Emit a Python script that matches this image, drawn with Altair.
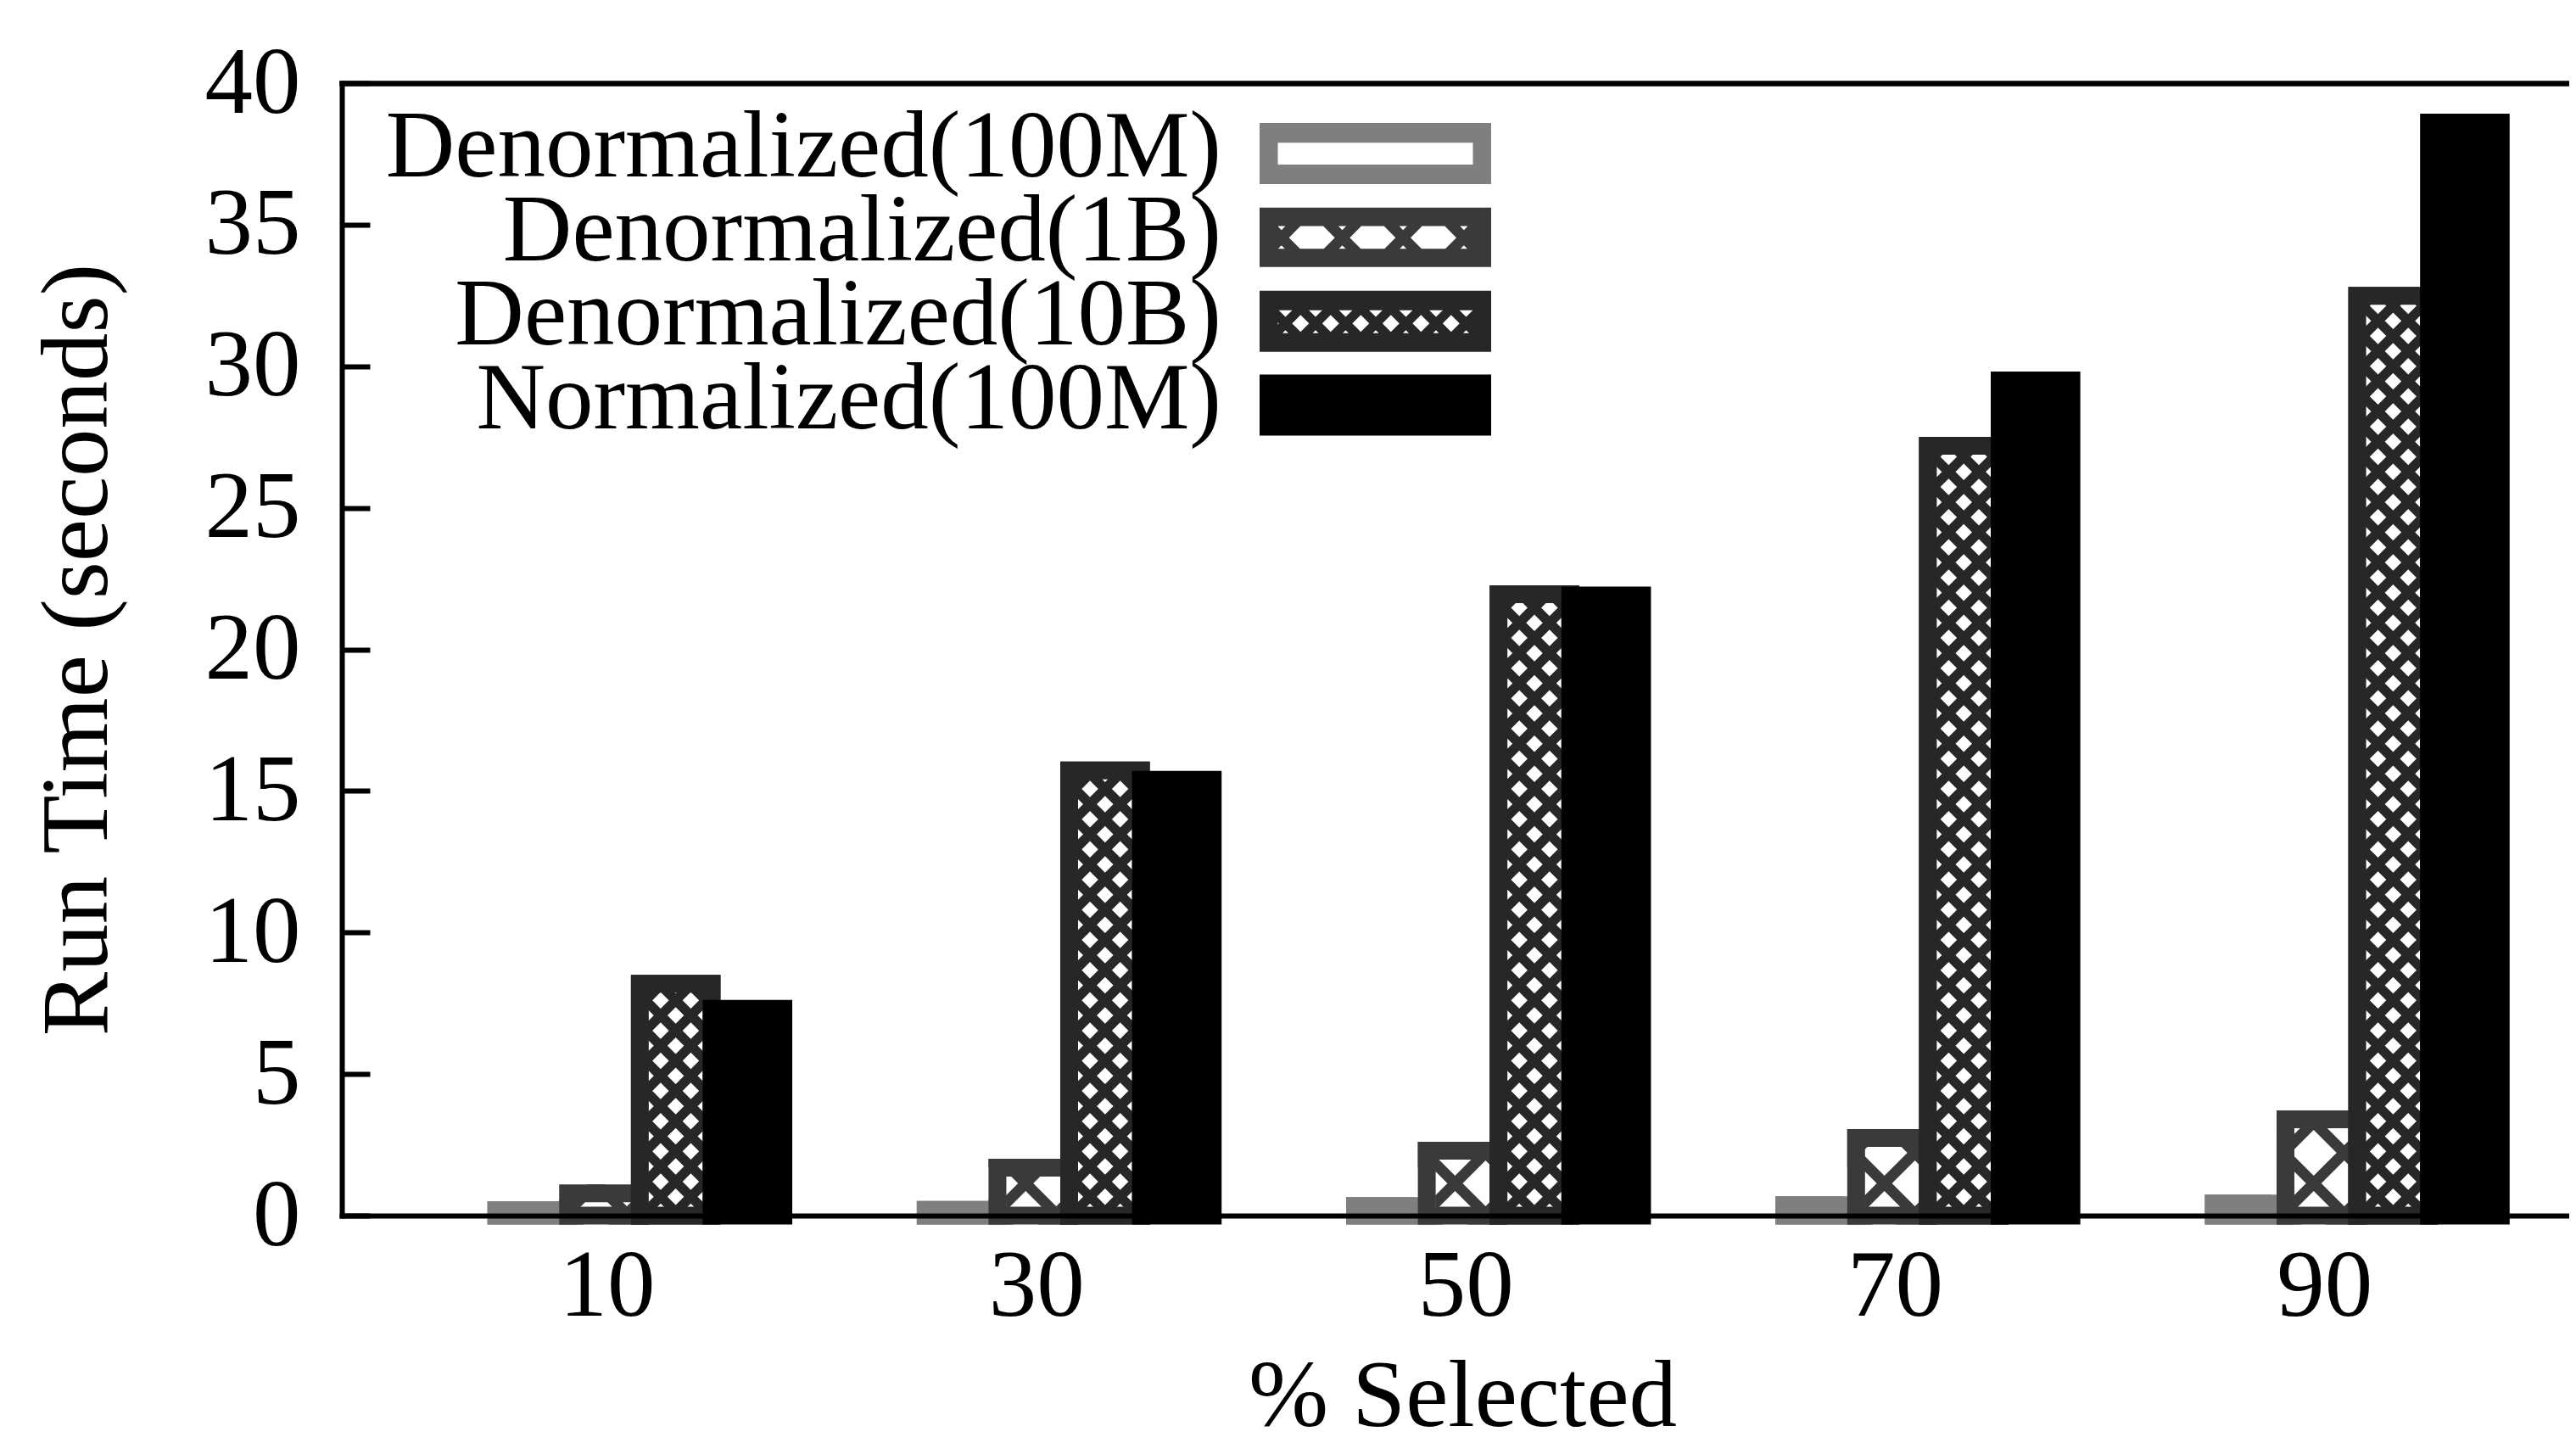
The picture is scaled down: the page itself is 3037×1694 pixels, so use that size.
import altair as alt
import pandas as pd

# ---------------- data ----------------
pct = [10, 30, 50, 70, 90]
series = ["Denormalized(100M)", "Denormalized(1B)", "Denormalized(10B)", "Normalized(100M)"]
den_100m = [0.19, 0.20, 0.34, 0.37, 0.43]
den_1b = [0.79, 1.69, 2.29, 2.74, 3.40]
den_10b = [8.19, 15.72, 21.95, 27.19, 32.49]
norm_100m = [7.30, 15.39, 21.90, 29.50, 38.61]
x_ticks = [10, 30, 50, 70, 90]
y_ticks = [0, 5, 10, 15, 20, 25, 30, 35, 40]
values_by_series = [den_100m, den_1b, den_10b, norm_100m]

# ---------------- layout / style ----------------
FONT = "Liberation Serif"
FS = 113
W, H = 2626, 1335
XMIN, XMAX = -2.347, 101.41
YMAX = 40
PXX = W / (XMAX - XMIN)   # px per x unit
PXY = H / YMAX            # px per y unit
BW = 84.6 / PXX           # bar width (x units)
OFF = -5.15               # first bar left edge relative to tick
SW = 21                   # bar border width
fill_colors = ["#ffffff", "#3a3a3a", "#272727", "#000000"]
stroke_colors = ["#7f7f7f", "#3a3a3a", "#272727", "#000000"]

rows = []
for si, (s, vals) in enumerate(zip(series, values_by_series)):
    for p, v in zip(pct, vals):
        x0 = p + OFF + si * BW
        rows.append(dict(pct=p, series=s, value=v, x0=x0, x1=x0 + BW, xc=x0 + BW / 2))
df = pd.DataFrame(rows)

xs = alt.Scale(domain=[XMIN, XMAX], nice=False, zero=False)
ys = alt.Scale(domain=[0, YMAX], nice=False, zero=False)
fill_enc = alt.Fill("series:N", scale=alt.Scale(domain=series, range=fill_colors), legend=None)
stroke_enc = alt.Stroke("series:N", scale=alt.Scale(domain=series, range=stroke_colors), legend=None)

base = alt.Chart(df)


def bar_layer(names, fill_opacity=1, x_axis=None, y_axis=None):
    flt = alt.FieldOneOfPredicate(field="series", oneOf=names)
    return base.transform_filter(flt).mark_rect(
        strokeWidth=SW, fillOpacity=fill_opacity, opacity=1
    ).encode(
        x=alt.X("x0:Q", scale=xs, axis=x_axis),
        x2="x1:Q",
        y=alt.Y("value:Q", scale=ys, axis=y_axis),
        y2=alt.datum(0),
        fill=fill_enc,
        stroke=stroke_enc,
    )


def pattern_layer(name, dx_px, dy_px, y0_px, xoff_px, size, margin_px, parity):
    dx, dy, y0, xoff = dx_px / PXX, dy_px / PXY, y0_px / PXY, xoff_px / PXX
    mx, my = margin_px / PXX, margin_px / PXY
    return base.transform_filter(alt.datum.series == name).transform_calculate(
        rr=f"sequence(0, ceil(datum.value / {dy}) + 2)",
        jj="sequence(-3, 4)",
    ).transform_flatten(["rr"]).transform_flatten(["jj"]).transform_calculate(
        px=f"datum.xc + {xoff} + datum.jj * {dx}",
        py=f"{y0} + datum.rr * {dy}",
    ).transform_filter(
        f"(datum.rr + datum.jj + 10) % 2 == {parity} && datum.px >= datum.x0 - {mx} "
        f"&& datum.px <= datum.x1 + {mx} && datum.py <= datum.value + {my}"
    ).mark_point(
        shape="diamond", size=size, filled=True, color="white", opacity=1, strokeWidth=0
    ).encode(
        x=alt.X("px:Q", scale=xs, axis=None),
        y=alt.Y("py:Q", scale=ys, axis=None),
    )


x_axis_bottom = alt.Axis(
    values=x_ticks, format="d", ticks=False, grid=False, labelFlush=False,
    labelFont=FONT, labelFontSize=FS, labelColor="black", labelPadding=117,
    labelBaseline="alphabetic", domainColor="black", domainWidth=6, domainCap="square",
    title="% Selected", titleFont=FONT, titleFontSize=FS, titleFontWeight="normal",
    titleColor="black", titleX=1321, titleY=247, titleAlign="center",
    titleBaseline="alphabetic", zindex=1,
)
x_axis_top = alt.Axis(
    orient="top", labels=False, ticks=False, grid=False, title=None,
    domainColor="black", domainWidth=6.5, domainCap="square", zindex=1,
)
y_axis = alt.Axis(
    values=y_ticks, format="d", grid=False, labelFlush=False,
    tickSize={"expr": "-33"}, tickWidth=6, tickColor="black",
    labelFont=FONT, labelFontSize=FS, labelColor="black", labelPadding=82,
    labelBaseline="middle", domainColor="black", domainWidth=6, domainCap="square",
    title="Run Time (seconds)", titleFont=FONT, titleFontSize=FS,
    titleFontWeight="normal", titleColor="black", titleAngle=270,
    titleX=-278, titleY=667.5, titleAlign="center", titleBaseline="alphabetic",
    zindex=1,
)

L1 = bar_layer(series[:2], x_axis=x_axis_bottom, y_axis=y_axis)
L2 = pattern_layer(series[1], 36, 36, 2, -9, 2916, 17, 0)
L3 = bar_layer(series[:2], fill_opacity=0)
L4 = bar_layer([series[2]])
L5 = pattern_layer(series[2], 17.8, 17.8, 4.5, 0, 380, 0, 1)
L6 = bar_layer([series[2]], fill_opacity=0)
L7 = bar_layer([series[3]], x_axis=x_axis_top)

main = alt.layer(L1, L2, L3, L4, L5, L6, L7).resolve_axis(x="independent", y="independent")


# ---------------- legend (symbols with pattern holes) ----------------
def clip_poly(poly, x_lo, x_hi, y_lo, y_hi):
    def clip(pts, inside, inter):
        out = []
        n = len(pts)
        for i in range(n):
            cur, prev = pts[i], pts[i - 1]
            if inside(cur):
                if not inside(prev):
                    out.append(inter(prev, cur))
                out.append(cur)
            elif inside(prev):
                out.append(inter(prev, cur))
        return out

    def ix(xv):
        return lambda a, b: (xv, a[1] + (b[1] - a[1]) * (xv - a[0]) / (b[0] - a[0]))

    def iy(yv):
        return lambda a, b: (a[0] + (b[0] - a[0]) * (yv - a[1]) / (b[1] - a[1]), yv)

    pts = poly
    for inside, inter in [
        (lambda p: p[0] >= x_lo, ix(x_lo)),
        (lambda p: p[0] <= x_hi, ix(x_hi)),
        (lambda p: p[1] >= y_lo, iy(y_lo)),
        (lambda p: p[1] <= y_hi, iy(y_hi)),
    ]:
        if not pts:
            break
        pts = clip(pts, inside, inter)
    return pts


def hole(cx, cy, r, box):
    poly = [(cx - r, cy), (cx, cy - r), (cx + r, cy), (cx, cy + r)]
    pts = clip_poly(poly, *box)
    if len(pts) < 3:
        return ""
    area = sum(pts[i][0] * pts[(i + 1) % len(pts)][1] - pts[(i + 1) % len(pts)][0] * pts[i][1]
               for i in range(len(pts)))
    if abs(area) < 2:
        return ""
    if area > 0:
        pts = pts[::-1]
    return "M" + "L".join(f"{x:.1f},{y:.1f}" for x, y in pts) + "Z"


def rect(hw, hh):
    return f"M{-hw},{-hh}H{hw}V{hh}H{-hw}Z"


sym_100m = rect(136.5, 36) + "M-115,-12.7V13H115V-12.7Z"
box1 = (-114.5, 114.0, -13.3, 13.3)
holes1 = [hole(x, 0.3, 27, box1) for x in (-74.8, -3.2, 68.5)]
holes1 += [hole(x, y, 27, box1) for x in (-110.7, -39.0, 32.7, 104.4) for y in (-35.7, 36.3)]
sym_1b = rect(136.5, 35) + "".join(holes1)
box2 = (-115.0, 115.0, -13.0, 14.0)
holes2 = [hole(-88.2 + 35.5 * k, 2.7, 10, box2) for k in range(-1, 7)]
holes2 += [hole(-105.95 + 35.5 * k, y, 10, box2) for k in range(-1, 8) for y in (-15.1, 20.5)]
sym_10b = rect(136.5, 36) + "".join(holes2)
sym_norm = rect(136.5, 36)
sym_paths = [sym_100m, sym_1b, sym_10b, sym_norm]

leg_df = pd.DataFrame({"series": series})
leg_y = alt.Y("series:N", scale=alt.Scale(type="point", domain=series, range=[83, 379.5], padding=0), axis=None)
leg_text = alt.Chart(leg_df).mark_text(
    align="right", baseline="alphabetic", dy=27, font=FONT, fontSize=FS, color="black"
).encode(x=alt.value(1037), y=leg_y, text="series:N")
leg_sym = alt.Chart(leg_df).mark_point(filled=True, size=4, opacity=1, strokeWidth=0).encode(
    x=alt.value(1218.5),
    y=leg_y,
    shape=alt.Shape("series:N", scale=alt.Scale(domain=series, range=sym_paths), legend=None),
    fill=alt.Fill("series:N", scale=alt.Scale(domain=series, range=stroke_colors), legend=None),
)
legend = alt.layer(leg_text, leg_sym)

chart = alt.layer(main, legend).resolve_scale(
    y="independent", fill="independent", shape="independent"
).properties(
    width=W, height=H,
    autosize=alt.AutoSizeParams(type="none"),
    padding={"left": 395, "top": 90, "right": 0, "bottom": 253},
    background="white",
).configure_view(stroke=None)

chart.save("out.html", embed_options={"renderer": "svg", "actions": False})
